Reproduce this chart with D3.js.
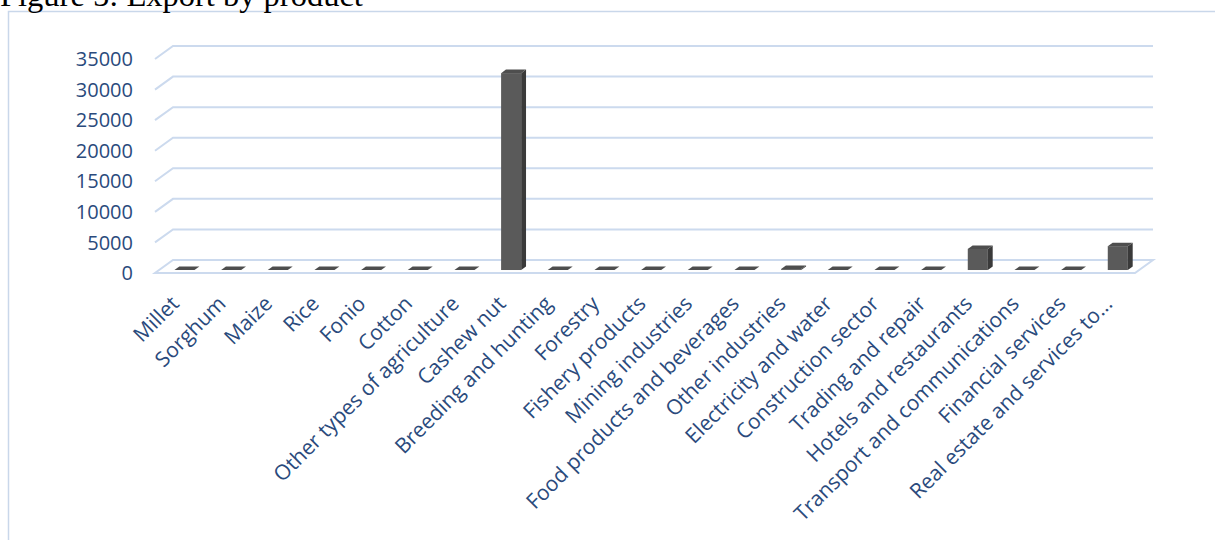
<!DOCTYPE html>
<html><head><meta charset="utf-8">
<script src="https://cdn.jsdelivr.net/npm/d3@7"></script>
<style>html,body{margin:0;padding:0;background:#fff;overflow:hidden}</style>
</head><body>
<svg id="chart" width="1215" height="540"></svg>
<script>
const title = "Figure 5: Export by product";
const categories = ["Millet","Sorghum","Maize","Rice","Fonio","Cotton","Other types of agriculture","Cashew nut","Breeding and hunting","Forestry","Fishery products","Mining industries","Food products and beverages","Other industries","Electricity and water","Construction sector","Trading and repair","Hotels and restaurants","Transport and communications","Financial services","Real estate and services to..."];
const values = [0,0,0,0,0,0,0,32200,0,0,0,0,0,150,0,0,0,3450,0,0,3900];
const yTicks = [0,5000,10000,15000,20000,25000,30000,35000];

const svg = d3.select("#chart");
const textColor = "#2A4A7C";
const gridColor = "#CCDAEE";
const DX = 18, DY = -13;

const x = d3.scaleBand().domain(categories).range([155, 1135]).padding(0);
const y = d3.scaleLinear().domain([0, 35000]).range([273, 59]);

// outer border
svg.append("rect").attr("x", 8.5).attr("y", 11.5).attr("width", 1220).attr("height", 540)
  .attr("fill", "none").attr("stroke", "#C9D7EA").attr("stroke-width", 1.5);

// title
svg.append("text").attr("x", 0).attr("y", 6).text(title)
  .attr("font-family", "Liberation Serif, Times New Roman, serif").attr("font-size", 32.5).attr("fill", "#000");

const x0 = x.range()[0], x1 = x.range()[1];
// floor
svg.append("path")
  .attr("d", `M${x0},${y(0)}L${x1},${y(0)}L${x1+DX},${y(0)+DY}L${x0+DX},${y(0)+DY}Z`)
  .attr("fill", "#fff").attr("stroke", gridColor).attr("stroke-width", 2);

// gridlines (back wall + side wall)
const grid = svg.append("g");
yTicks.filter(v => v > 0).forEach(v => {
  grid.append("path")
    .attr("d", `M${x0},${y(v)}L${x0+DX},${y(v)+DY}L${x1+DX},${y(v)+DY}`)
    .attr("fill", "none").attr("stroke", gridColor).attr("stroke-width", 2);
});

// y tick labels
svg.append("g").selectAll("text").data(yTicks).join("text")
  .attr("x", 133).attr("y", d => y(d)).attr("dy", "0.36em")
  .attr("text-anchor", "end").attr("font-family", "Open Sans, sans-serif").attr("font-size", 20)
  .attr("fill", textColor).text(d => d);

// bars (3D)
const dFront = 0.23, dBack = 0.5;
const bw = x.bandwidth() * 0.43;
const bars = svg.append("g");
categories.forEach((c, i) => {
  const v = values[i];
  const cx = x(c) + x.bandwidth() / 2;
  const fx = cx - bw / 2 + DX * dFront + 2;
  const fyOff = DY * dFront;
  const base = y(0) + fyOff;
  const top = y(v) + fyOff;
  const ddx = DX * (dBack - dFront), ddy = DY * (dBack - dFront);
  if (base - top > 0.5) {
    bars.append("rect").attr("x", fx).attr("y", top).attr("width", bw).attr("height", base - top)
      .attr("fill", "#5A5A5A");
    bars.append("path").attr("d", `M${fx+bw},${top}L${fx+bw+ddx},${top+ddy}L${fx+bw+ddx},${base+ddy}L${fx+bw},${base}Z`)
      .attr("fill", "#3A3A3A");
  }
  bars.append("path").attr("d", `M${fx},${top}L${fx+ddx},${top+ddy}L${fx+bw+ddx},${top+ddy}L${fx+bw},${top}Z`)
    .attr("fill", "#4E4E4E");
});

// x labels
svg.append("g").selectAll("text").data(categories).join("text")
  .attr("transform", d => `translate(${x(d) + x.bandwidth()/2 + 2},${305}) rotate(-45)`)
  .attr("text-anchor", "end").attr("font-family", "Open Sans, sans-serif").attr("font-size", 21)
  .attr("fill", textColor).text(d => d);
</script>
</body></html>
